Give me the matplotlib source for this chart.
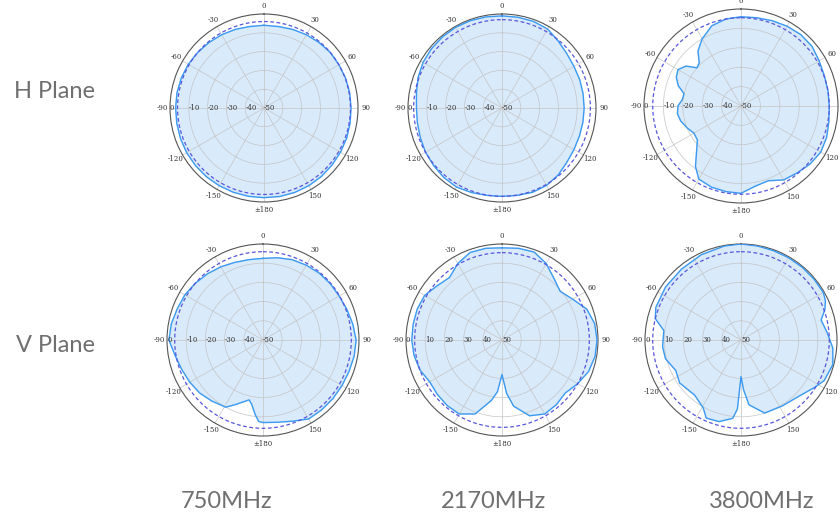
import numpy as np
import matplotlib
matplotlib.use("Agg")
import matplotlib.pyplot as plt

# radiation patterns, gain in dB, angle in degrees (0 = top, clockwise)
angles_h750 = [0, 10, 20, 30, 40, 50, 60, 70, 80, 90, 100, 110, 120, 130, 140, 150, 160, 170,
               180, 190, 200, 210, 220, 230, 240, 250, 260, 270, 280, 290, 300, 310, 320, 330, 340, 350]
gain_h750 = [-6, -6, -5.5, -5, -4.5, -4, -4, -3.8, -3.7, -3.7, -3.5, -3.2, -3, -2.8, -2.5, -2.3, -2.2, -2.2,
             -2.3, -2.3, -2.3, -2.3, -2.3, -2.4, -2.5, -2.7, -2.9, -3, -3, -3.2, -3.5, -4, -4.5, -5, -5.5, -6]

angles_h2170 = angles_h750
gain_h2170 = [-1, -1, -1, -1.5, -3.5, -5, -5.8, -6, -6.2, -6.3, -6.3, -6.2, -5.8, -5, -3.5, -2.5, -2.3, -2.8,
              -3, -2.8, -2.2, -1.5, -1.8, -2.5, -3, -3.8, -4.3, -4.5, -3.8, -2.5, -1.5, -1, -0.7, -0.5, -0.6, -0.8]

angles_h3800 = [0, 10, 20, 30, 40, 50, 60, 70, 80, 90, 100, 110, 120, 130, 140, 150, 160, 170,
                180, 190, 200, 210, 217, 224, 232, 240, 248, 256, 263, 270, 276, 282, 288, 294, 300,
                306, 311, 316, 322, 330, 340, 350]
gain_h3800 = [-4, -3.8, -3.2, -2.5, -2, -2.2, -3.5, -4.3, -4.5, -4.5, -4, -3, -2.5, -3.5, -5, -6, -9, -8,
              -5, -5.2, -5.5, -6.5, -11, -17, -21.5, -22, -20, -18, -17, -17.5, -19.5, -20, -16, -13.5, -12.5,
              -15, -20, -19, -14, -10, -6, -4.5]

angles_v750 = [0, 10, 20, 30, 40, 50, 60, 70, 80, 90, 100, 110, 120, 130, 140, 150, 160, 170, 180,
               183, 186, 190, 193, 197, 203, 209, 220, 230, 240, 250, 260, 270, 280, 290, 300, 310, 320, 330, 340, 350]
gain_v750 = [-7.5, -6.5, -5.5, -5, -4.5, -4.3, -4.2, -3.5, -2.5, -1.5, -1.8, -2.3, -2.5, -2.5, -2.5, -2.5, -5, -6.5, -7,
             -7.5, -11, -16, -18, -16.5, -13.5, -10, -8.5, -7, -6, -5, -3.5, -1, -1.5, -2.5, -3, -4, -5, -6, -7, -7.5]

angles_v2170 = [0, 10, 20, 30, 40, 50, 60, 70, 80, 90, 100, 110, 120, 130, 140, 150, 160, 170, 175, 180,
                185, 190, 200, 210, 220, 230, 240, 250, 260, 270, 280, 290, 300, 310, 320, 330, 340, 350]
gain_v2170 = [-2, -1.5, -1.2, -4, -8, -10.5, -7.5, -3, -1, -0.5, -0.8, -2, -4.5, -7, -6, -5.5, -8, -15, -22, -32,
              -23, -18, -9, -5.5, -5.5, -6, -6.5, -4.5, -3.5, -3, -3, -3, -3.5, -6, -7.5, -4, -1.5, -1.5]

angles_v3800 = [0, 10, 20, 30, 40, 50, 60, 65, 70, 76, 85, 95, 105, 116, 123, 137, 148, 162, 173, 177, 180,
                183, 186, 195, 204, 209, 220, 235, 245, 256, 265, 277, 284, 291, 305, 320, 335, 350]
gain_v3800 = [0, -0.3, -0.5, -0.5, -0.5, -0.5, -0.5, -1.5, -3.5, -7, -5, -2, -0.5, -1.8, -4.5, -8.5, -9.5, -10, -16, -24, -31,
              -14, -9, -6, -5.5, -9.5, -12.5, -11, -12.5, -9.5, -9, -9.5, -4, -2.5, -2, -1.8, -1, -0.3]

ref_levels = [-4, -3, -4.5, -4, -4.5, -4]

theta_ticks = [0, 30, 60, 90, 120, 150, 180, 210, 240, 270, 300, 330]
theta_labels = ["0", "30", "60", "90", "120", "150", "\u00b1180", "-150", "-120", "-90", "-60", "-30"]
r_ticks = [0, -10, -20, -30, -40, -50]
r_labels_neg = ["0", "-10", "-20", "-30", "-40", "-50"]
r_labels_pos = ["0", "10", "20", "30", "40", "50"]

row_names = ["H Plane", "V Plane"]
freq_names = ["750MHz", "2170MHz", "3800MHz"]

W, H = 840, 517
fig = plt.figure(figsize=(W / 100, H / 100), dpi=100)

# center x, center y, radius in pixels
panels = [
    (264, 108, 94, angles_h750, gain_h750, r_labels_neg),
    (502, 108, 94, angles_h2170, gain_h2170, r_labels_neg),
    (741, 106, 97, angles_h3800, gain_h3800, r_labels_neg),
    (263, 340, 96, angles_v750, gain_v750, r_labels_neg),
    (502, 340, 96, angles_v2170, gain_v2170, r_labels_pos),
    (741, 340, 96, angles_v3800, gain_v3800, r_labels_pos),
]

for i, (cx, cy, R, ang, gain, rlab) in enumerate(panels):
    ax = fig.add_axes([(cx - R) / W, (H - cy - R) / H, 2 * R / W, 2 * R / H], projection="polar")
    ax.set_theta_zero_location("N")
    ax.set_theta_direction(-1)
    ax.set_ylim(-50, 0)

    th = np.deg2rad(ang + [ang[0]])
    rr = gain + [gain[0]]
    ax.fill(th, rr, color="#d9eafb", zorder=1)
    ax.plot(th, rr, color="#3b9af0", lw=1.0, zorder=3)

    circ = np.linspace(0, 2 * np.pi, 361)
    ax.plot(circ, np.full_like(circ, ref_levels[i]), color="#5656dc", lw=0.9,
            dashes=(3, 2), zorder=3)

    ax.set_yticks([-40, -30, -20, -10])
    ax.set_yticklabels([])
    ax.set_thetagrids(theta_ticks, theta_labels, fontsize=5, family="DejaVu Serif", color="#333333")
    ax.tick_params(axis="x", pad=-5)
    ax.grid(color="#c4c4c4", lw=0.5)
    ax.spines["polar"].set_color("#555555")
    ax.spines["polar"].set_linewidth(0.8)
    for rv, lab in zip(r_ticks, rlab):
        ax.text(np.deg2rad(270), rv, lab, fontsize=5, family="DejaVu Serif", color="#333333",
                ha="left", va="center", zorder=4)

label_kw = dict(color="#6f6f6f", family=["Lato", "DejaVu Sans"])
fig.text(55 / W, 1 - 92 / H, row_names[0], fontsize=17, ha="center", va="center", **label_kw)
fig.text(56 / W, 1 - 345 / H, row_names[1], fontsize=17, ha="center", va="center", **label_kw)
for x, name in zip([227, 493, 762], freq_names):
    fig.text(x / W, 1 - 502 / H, name, fontsize=17, ha="center", va="center", **label_kw)

fig.savefig("out.png", dpi=100, facecolor="white")
